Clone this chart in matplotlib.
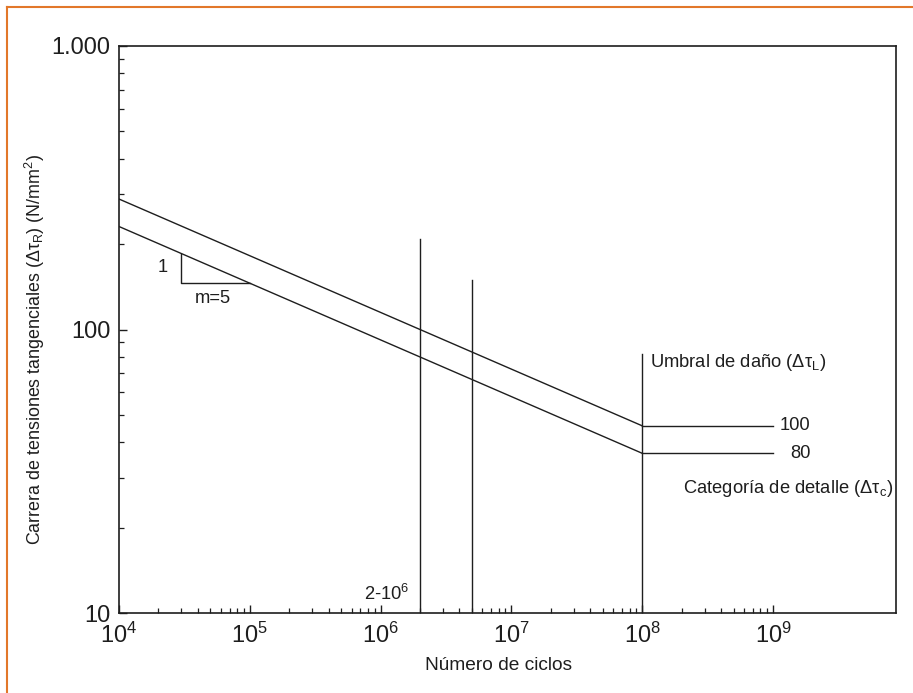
import numpy as np
import matplotlib
matplotlib.use("Agg")
import matplotlib.pyplot as plt
from matplotlib.ticker import LogLocator, FixedLocator, FixedFormatter, NullFormatter
from matplotlib.lines import Line2D

plt.rcParams['font.family'] = ['Liberation Sans', 'DejaVu Sans']
plt.rcParams['mathtext.fontset'] = 'custom'
plt.rcParams['mathtext.rm'] = 'Liberation Sans'
plt.rcParams['mathtext.it'] = 'Liberation Sans:italic'
plt.rcParams['mathtext.bf'] = 'Liberation Sans:bold'

# S-N curve parameters (shear stress, slope m = 5)
m = 5
n_ref = 2e6                      # reference number of cycles
categories = [100, 80]           # detail categories (N/mm2) at 2e6 cycles
n_start = 1e4
n_cutoff = 1e8                   # cut-off limit (Umbral de daño)
n_end = 1e9

# Vertical reference lines: cycles and their top value
vlines_n = [2e6, 5e6, 1e8]
vlines_top = [208, 150, 82]

# Slope triangle corners (cycles)
tri_n = [3e4, 1e5]

y_ticks = [10, 100, 1000]
y_tick_labels = ["10", "100", "1.000"]

ink = "#1e1e1e"

fig = plt.figure(figsize=(9.13, 6.93), dpi=100)
ax = fig.add_axes([119/913, 1-613/693, (896-119)/913, (613-46)/693])

ax.set_xscale('log')
ax.set_yscale('log')
ax.set_xlim(1e4, 10**9.94)
ax.set_ylim(10, 1000)


def curve(n, cat):
    return cat * (n_ref / np.asarray(n)) ** (1.0 / m)


for cat in categories:
    n_seg = np.array([n_start, n_cutoff])
    y_seg = curve(n_seg, cat)
    ax.plot(n_seg, y_seg, color=ink, lw=1.0)
    # constant level beyond cut-off
    ax.plot([n_cutoff, n_end], [y_seg[-1], y_seg[-1]], color=ink, lw=1.0)

for n, top in zip(vlines_n, vlines_top):
    ax.plot([n, n], [10, top], color=ink, lw=1.0)

# slope triangle on the lower curve
low = categories[-1]
t_top = curve(tri_n[0], low)
t_bot = curve(tri_n[1], low)
ax.plot([tri_n[0], tri_n[0], tri_n[1]], [t_top, t_bot, t_bot], color=ink, lw=1.0)

fs = 13.2
ax.text(10**4.336, 10**2.22, "1", fontsize=fs, ha='center', va='center', color=ink)
ax.text(10**4.72, 10**2.094, "m=5", fontsize=fs, ha='center', va='baseline', color=ink)
ax.text(10**6.222, 11.65, "2-10$^{6}$", fontsize=fs, ha='right', va='center', color=ink)
ax.text(10**8.06, 10**1.885, "Umbral de daño (Δτ$_{\\mathrm{L}}$)", fontsize=fs,
        ha='left', va='center', color=ink)
ax.text(10**9.285, curve(n_cutoff, categories[0]), "100", fontsize=fs,
        ha='right', va='center', color=ink)
ax.text(10**9.285, curve(n_cutoff, categories[1]), "80", fontsize=fs,
        ha='right', va='center', color=ink)
ax.text(10**8.31, 10**1.44, "Categoría de detalle (Δτ$_{\\mathrm{c}}$)", fontsize=fs,
        ha='left', va='center', color=ink)

# axes styling
for sp in ax.spines.values():
    sp.set_linewidth(1.2)
    sp.set_color(ink)

x_minor = [s * 10.0**e for e in range(4, 9) for s in range(2, 10)]
ax.xaxis.set_major_locator(LogLocator(base=10, numticks=20))
ax.xaxis.set_minor_locator(FixedLocator(x_minor))
ax.xaxis.set_minor_formatter(NullFormatter())
ax.yaxis.set_major_locator(FixedLocator(y_ticks))
ax.yaxis.set_major_formatter(FixedFormatter(y_tick_labels))
ax.yaxis.set_minor_locator(LogLocator(base=10, subs=np.arange(2, 10), numticks=20))
ax.yaxis.set_minor_formatter(NullFormatter())

ax.tick_params(which='major', direction='in', length=6, width=1.0, color=ink,
               labelsize=17, pad=7, top=False, right=False, labelcolor=ink)
ax.tick_params(axis='y', which='major', pad=6)
ax.tick_params(which='minor', direction='in', length=3.5, width=0.9, color=ink,
               top=False, right=False)

ax.set_xlabel("Número de ciclos", fontsize=13.8, color=ink)
ax.xaxis.set_label_coords(0.488, -0.078)
ax.set_ylabel("Carrera de tensiones tangenciales (Δτ$_{\\mathrm{R}}$) (N/mm$^{2}$)",
              fontsize=12.9, color=ink)
ax.yaxis.set_label_coords(-0.093, 0.465)

# orange frame of the figure
orange = "#e2772a"
fig.add_artist(Line2D([7/913, 1], [1-7/693, 1-7/693], transform=fig.transFigure,
                      color=orange, lw=1.5))
fig.add_artist(Line2D([7/913, 7/913], [0, 1-7/693], transform=fig.transFigure,
                      color=orange, lw=1.5))

fig.savefig("out.png", dpi=100)
